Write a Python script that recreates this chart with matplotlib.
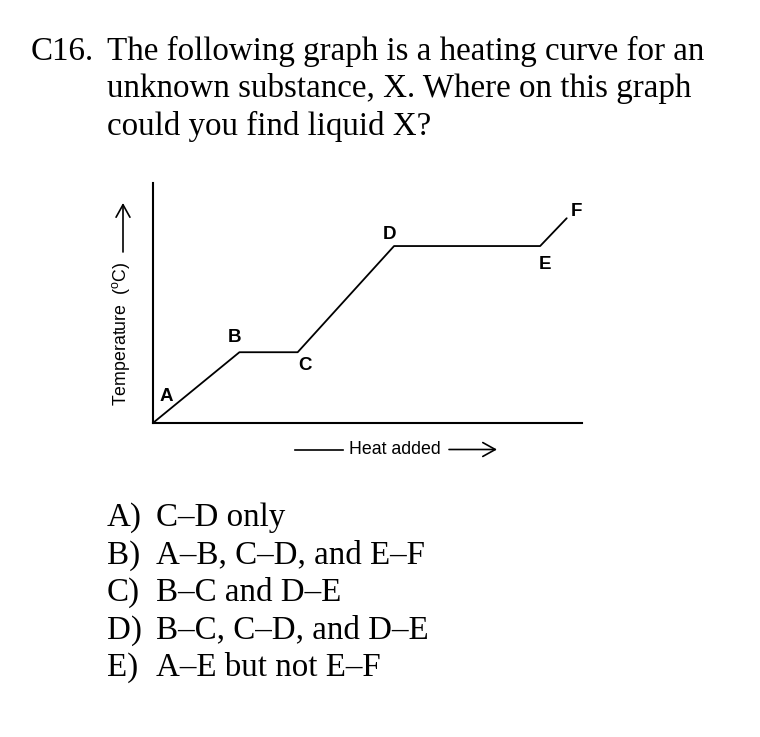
import matplotlib
matplotlib.use("Agg")
import matplotlib.pyplot as plt
from matplotlib.patches import FancyArrowPatch

plt.rcParams["mathtext.fontset"] = "custom"
plt.rcParams["mathtext.rm"] = "Liberation Sans"

# Heating curve data (arbitrary units)
heat = [0, 20.1, 33.7, 56.2, 90.3, 96.5]
temp = [0, 29.4, 29.4, 73.7, 73.7, 85.3]
point_labels = ["A", "B", "C", "D", "E", "F"]

question = ["The following graph is a heating curve for an",
            "unknown substance, X. Where on this graph",
            "could you find liquid X?"]
choice_keys = ["A)", "B)", "C)", "D)", "E)"]
choices = ["C\u2013D only",
           "A\u2013B, C\u2013D, and E\u2013F",
           "B\u2013C and D\u2013E",
           "B\u2013C, C\u2013D, and D\u2013E",
           "A\u2013E but not E\u2013F"]

W, H = 760, 737
fig = plt.figure(figsize=(W / 100, H / 100), dpi=100)


def px(x, y):
    # pixel position -> figure fraction
    return x / W, 1 - y / H


serif = "Liberation Serif"
sans = "Liberation Sans"
fs_text = 23.8

# Question text
fig.text(*px(30.7, 60), "C16.", family=serif, fontsize=fs_text, va="baseline")
for i, line in enumerate(question):
    fig.text(*px(106.7, 60 + i * 37.5), line, family=serif, fontsize=fs_text, va="baseline")

# Answer choices
for i, (k, c) in enumerate(zip(choice_keys, choices)):
    y = 525.7 + i * 37.6
    fig.text(*px(106.7, y), k, family=serif, fontsize=fs_text, va="baseline")
    fig.text(*px(156, y), c, family=serif, fontsize=fs_text, va="baseline")

# Graph axes
x0, x1, y0, y1 = 153.3, 581.7, 183, 422.7
ax = fig.add_axes([x0 / W, 1 - y1 / H, (x1 - x0) / W, (y1 - y0) / H])
ax.plot(heat, temp, color="black", lw=1.3, solid_capstyle="round")
ax.set_xlim(0, 100)
ax.set_ylim(0, 100)
for s in ["top", "right"]:
    ax.spines[s].set_visible(False)
for s in ["left", "bottom"]:
    ax.spines[s].set_linewidth(1.5)
ax.set_xticks([])
ax.set_yticks([])

# Point labels (offsets in pixels)
offsets = {"A": (13, 26), "B": (-5, 15), "C": (7, -13),
           "D": (-5, 12), "E": (5, -18), "F": (10, 7)}
for lab, xv, yv in zip(point_labels, heat, temp):
    ax.annotate(lab, (xv, yv), xytext=offsets[lab], textcoords="offset pixels",
                ha="center", va="center", family=sans, fontsize=13.5,
                fontweight="bold")

# X label with arrows
fig.text(*px(394.5, 449.5), "Heat added", family=sans, fontsize=12.8,
         ha="center", va="center")
fig.add_artist(plt.Line2D([295 / W, 342.7 / W], [1 - 449.5 / H] * 2,
                          color="black", lw=1.2, transform=fig.transFigure))
fig.add_artist(FancyArrowPatch(
    px(449, 449.5), px(497, 449.5), arrowstyle="->,head_length=9,head_width=5",
    color="black", lw=1.2, transform=fig.transFigure, mutation_scale=1,
    shrinkA=0, shrinkB=0))

# Y label with arrow
fig.text(*px(120.7, 334), "Temperature  ($^{\\mathrm{o}}$C)", family=sans,
         fontsize=12.8, rotation=90, ha="center", va="center")
fig.add_artist(FancyArrowPatch(
    px(123, 252), px(123, 203), arrowstyle="->,head_length=9,head_width=5",
    color="black", lw=1.2, transform=fig.transFigure, mutation_scale=1,
    shrinkA=0, shrinkB=0))

fig.savefig("out.png", dpi=100, facecolor="white")
